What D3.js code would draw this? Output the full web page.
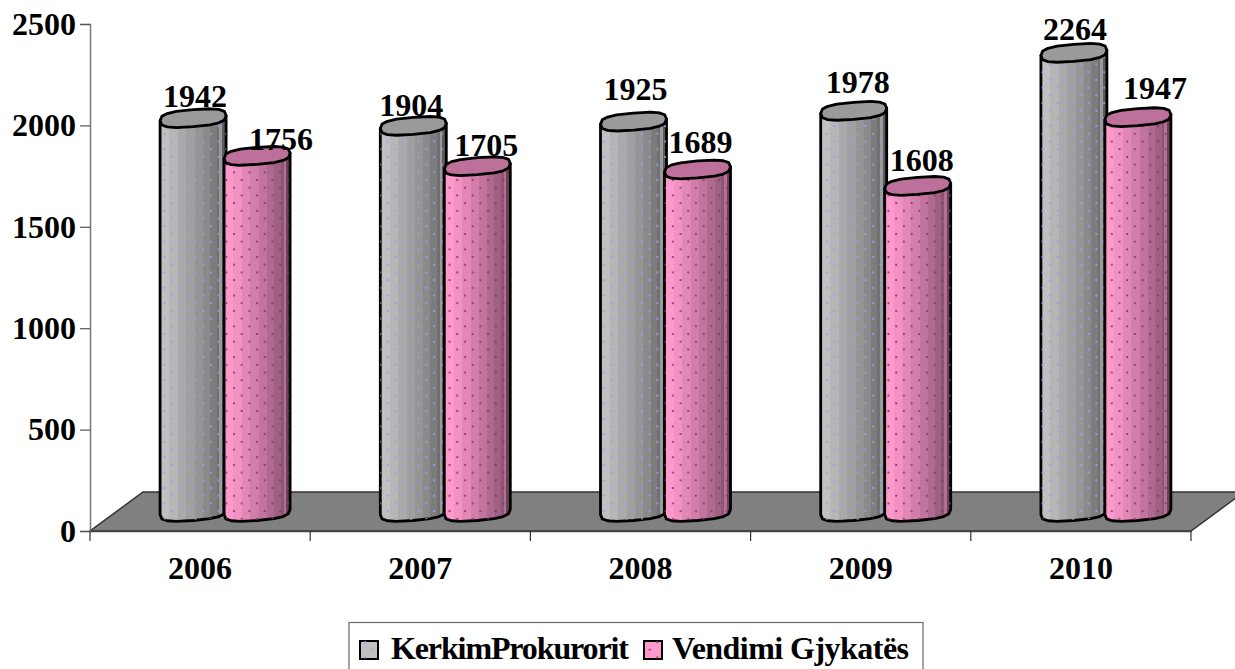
<!DOCTYPE html>
<html>
<head>
<meta charset="utf-8">
<script src="https://cdn.jsdelivr.net/npm/d3@7"></script>
<style>
    body { margin: 0; background: #fff; overflow: hidden; }
    svg { display: block; }
    text { font-family: "Liberation Serif", serif; font-weight: bold; fill: #000; }
</style>
</head>
<body>
<div id="chart"></div>
<script>
//The chart's values
const years = ["2006", "2007", "2008", "2009", "2010"];
const seriesNames = ["KerkimProkurorit", "Vendimi Gjykatës"];
const prokurori = [1942, 1904, 1925, 1978, 2264];
const gjykata = [1756, 1705, 1689, 1608, 1947];
const yTicks = [0, 500, 1000, 1500, 2000, 2500];

const width = 1235;
const height = 669;

const svg = d3.select("#chart")
    .append("svg")
    .attr("width", width)
    .attr("height", height);

//Scales
const xScale = d3.scaleBand().domain(years).range([90, 1191]);
const yScale = d3.scaleLinear().domain([0, 2500]).range([531, 24]);

//The look of each series: stepped shading from left to right
const looks = [
    {
        id: "gray", top: "#9a9a9a", dot: "#9a9af8", swatch: "#c0c0c0", shift: -7,
        bands: ["#c0c0c0", "#b6b6b6", "#aaaaaa", "#a0a0a0", "#959595", "#8a8a8a", "#7d7d7d", "#707070", "#9a9a9a", "#5c5c5c"]
    },
    {
        id: "pink", top: "#bd7099", dot: "#86366a", swatch: "#ff99cc", shift: 57,
        bands: ["#ff99cc", "#f292c2", "#e388b6", "#d27eaa", "#c1749d", "#b06a90", "#9f6082", "#8e5674", "#b56f96", "#6e415a"]
    }
];

const defs = svg.append("defs");

looks.forEach(look => {
    const grad = defs.append("linearGradient").attr("id", "shade-" + look.id);
    const widths = [0, 0.14, 0.27, 0.4, 0.53, 0.65, 0.76, 0.86, 0.9, 0.94, 1];
    look.bands.forEach((c, i) => {
        grad.append("stop").attr("offset", widths[i]).attr("stop-color", c);
        grad.append("stop").attr("offset", widths[i + 1]).attr("stop-color", c);
    });

    const pattern = defs.append("pattern")
        .attr("id", "dots-" + look.id)
        .attr("patternUnits", "userSpaceOnUse")
        .attr("width", 15.4)
        .attr("height", 15.4);
    pattern.append("circle").attr("cx", 3).attr("cy", 3).attr("r", 1.1).attr("fill", look.dot);
    pattern.append("circle").attr("cx", 10.7).attr("cy", 10.7).attr("r", 1.1).attr("fill", look.dot);
});

//Floor of the 3D chart
const depth = { x: 53, y: -39 };
const x0 = xScale.range()[0];
const x1 = xScale.range()[1];
const y0 = yScale(0);

svg.append("path")
    .attr("d", `M${x0},${y0}L${x1},${y0}L${x1 + depth.x},${y0 + depth.y}L${x0 + depth.x},${y0 + depth.y}Z`)
    .attr("fill", "#808080")
    .attr("stroke", "#333")
    .attr("stroke-width", 1.5);

//Y axis
const yAxis = svg.append("g")
    .attr("transform", `translate(${x0},0)`)
    .call(d3.axisLeft(yScale).tickValues(yTicks).tickFormat(d3.format("d")).tickSize(10).tickPadding(4));
yAxis.select(".domain").attr("stroke", "#777").attr("stroke-width", 1.5);
yAxis.selectAll(".tick line").attr("stroke", "#555").attr("stroke-width", 1.2);
yAxis.selectAll("text").style("font-size", "32px").attr("font-family", null);

//X axis, tick marks sit between the categories
const xAxis = svg.append("g")
    .attr("transform", `translate(0,${y0})`)
    .call(d3.axisBottom(xScale).tickSize(0).tickPadding(25));
xAxis.select(".domain").attr("stroke", "#444").attr("stroke-width", 1.5);
xAxis.selectAll("text").style("font-size", "32px").attr("font-family", null);

xAxis.selectAll(".boundary")
    .data(years.concat("end"))
    .enter()
    .append("line")
    .attr("class", "boundary")
    .attr("x1", (d, i) => x0 + i * xScale.step())
    .attr("x2", (d, i) => x0 + i * xScale.step())
    .attr("y1", 0)
    .attr("y2", 10)
    .attr("stroke", "#333")
    .attr("stroke-width", 1.2);

//Tilted squarish ring, sampled coarsely so the outline has the same polygon feel
const rx = 33;
const ry = 8.5;
const tilt = 0.08;
const floorInset = 19;

function ringPoint(cx, cy, t) {
    const c = Math.sign(Math.cos(t)) * Math.pow(Math.abs(Math.cos(t)), 0.7);
    const s = Math.sign(Math.sin(t)) * Math.pow(Math.abs(Math.sin(t)), 0.7);
    return [cx + rx * c, cy - rx * tilt * c + ry * s];
}

const line = d3.line();

function barTop(value) {
    return yScale(value) - floorInset;
}

function bodyPath(cx, value) {
    const top = barTop(value);
    const base = y0 - floorInset;
    const topLeft = ringPoint(cx, top, Math.PI);
    const topRight = ringPoint(cx, top, 0);
    //bottom half of the base ring, left to right
    const bottom = d3.range(0, 9).map(i => ringPoint(cx, base, Math.PI - i * Math.PI / 8));
    return line([topLeft].concat(bottom, [topRight])) + "Z";
}

function topPath(cx, value) {
    const ring = d3.range(0, 16).map(i => ringPoint(cx, barTop(value), i * Math.PI / 8));
    return line(ring) + "Z";
}

//Data label offsets from the top of each cylinder
const labelOffsets = [
    [[2, -11], [24, -6]],
    [[-2, -10], [9, -10]],
    [[2, -22], [3, -16]],
    [[4, -18], [4, -15]],
    [[1, -13], [17, -18]]
];

function drawSeries(values, look) {
    const bars = svg.append("g").attr("class", "series-" + look.id);
    const cx = i => xScale(years[i]) + xScale.step() / 2 + look.shift;

    bars.selectAll(".body")
        .data(values)
        .enter()
        .append("path")
        .attr("class", "body")
        .attr("d", (d, i) => bodyPath(cx(i), d))
        .attr("fill", `url(#shade-${look.id})`)
        .attr("stroke", "#000")
        .attr("stroke-width", 2.8)
        .attr("stroke-linejoin", "round");

    bars.selectAll(".dots")
        .data(values)
        .enter()
        .append("path")
        .attr("class", "dots")
        .attr("d", (d, i) => bodyPath(cx(i), d))
        .attr("fill", `url(#dots-${look.id})`);

    bars.selectAll(".top")
        .data(values)
        .enter()
        .append("path")
        .attr("class", "top")
        .attr("d", (d, i) => topPath(cx(i), d))
        .attr("fill", look.top)
        .attr("stroke", "#000")
        .attr("stroke-width", 2.8)
        .attr("stroke-linejoin", "round");
}

drawSeries(prokurori, looks[0]);
drawSeries(gjykata, looks[1]);

//Data labels
[prokurori, gjykata].forEach((values, si) => {
    svg.append("g").selectAll("text")
        .data(values)
        .enter()
        .append("text")
        .attr("x", (d, i) => xScale(years[i]) + xScale.step() / 2 + looks[si].shift + labelOffsets[i][si][0])
        .attr("y", (d, i) => barTop(d) + labelOffsets[i][si][1])
        .attr("text-anchor", "middle")
        .style("font-size", "32px")
        .text(d => d);
});

//Legend
const legend = svg.append("g");

legend.append("rect")
    .attr("x", 349)
    .attr("y", 622.5)
    .attr("width", 574)
    .attr("height", 60)
    .attr("fill", "#fff")
    .attr("stroke", "#666")
    .attr("stroke-width", 1.2);

const legendX = [[360, 391, 238], [644, 672, 237]];

seriesNames.forEach((name, i) => {
    legend.append("rect")
        .attr("x", legendX[i][0])
        .attr("y", 641)
        .attr("width", 18)
        .attr("height", 18)
        .attr("fill", looks[i].swatch)
        .attr("stroke", "#000")
        .attr("stroke-width", 2);
    legend.append("rect")
        .attr("x", legendX[i][0])
        .attr("y", 641)
        .attr("width", 18)
        .attr("height", 18)
        .attr("fill", `url(#dots-${looks[i].id})`);
    legend.append("text")
        .attr("x", legendX[i][1])
        .attr("y", 659)
        .attr("textLength", legendX[i][2])
        .attr("lengthAdjust", "spacing")
        .style("font-size", "32px")
        .text(name);
});
</script>
</body>
</html>
